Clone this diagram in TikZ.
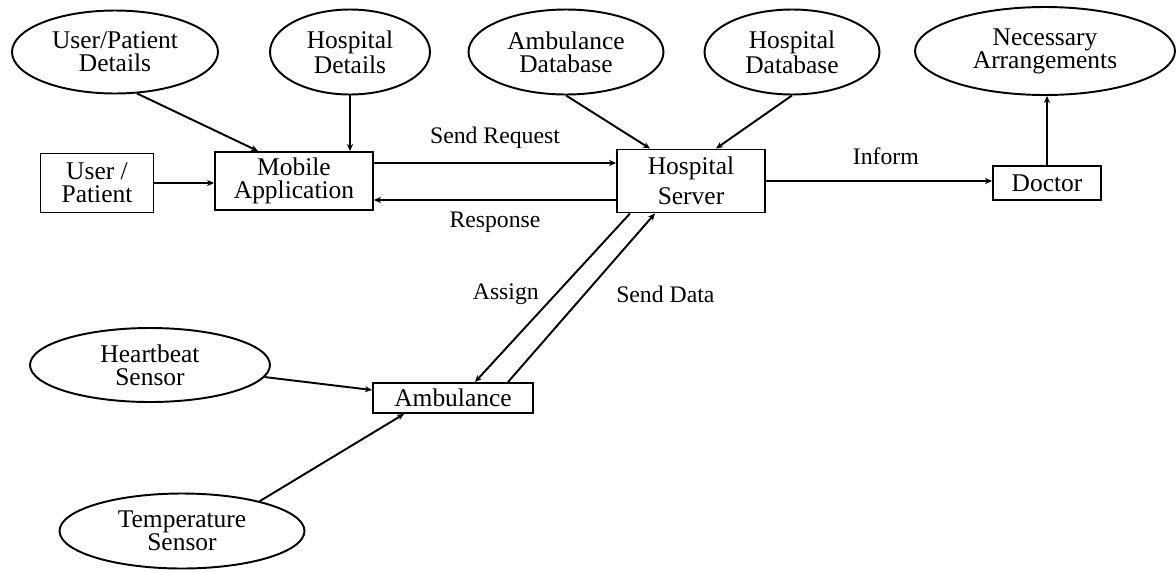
\documentclass[tikz,border=0pt]{standalone}
\usepackage{fontspec}
\setmainfont{Liberation Serif}
\usetikzlibrary{shapes.geometric,arrows.meta}

\begin{document}
\begin{tikzpicture}[x=0.02cm,y=-0.02cm,
    every node/.style={font=\fontsize{14.5}{13}\selectfont,align=center},
    blob/.style={draw,ellipse,line width=1.1pt,inner sep=0pt},
    unit/.style={draw,rectangle,line width=1.1pt,inner sep=0pt},
    flow/.style={-{Stealth[length=4pt,width=3.5pt]},line width=1.1pt},
    tag/.style={font=\fontsize{13.5}{13}\selectfont}]
  \useasboundingbox (0,0) rectangle (1176,572);
  \draw
    (115,52) node[blob,minimum width=4.12cm,minimum height=1.66cm] (upd){User/Patient\\Details}
    (350,52) node[blob,minimum width=3.2cm,minimum height=1.7cm] (hdet){Hospital\\Details}
    (566,52) node[blob,minimum width=3.9cm,minimum height=1.7cm] (adb){Ambulance\\Database}
    (792,52) node[blob,minimum width=3.5cm,minimum height=1.7cm] (hdb){Hospital\\Database}
    (1045,51) node[blob,minimum width=5.2cm,minimum height=1.76cm] (arr){Necessary\\Arrangements}
    (150,365) node[blob,minimum width=4.8cm,minimum height=1.48cm] (hbs){Heartbeat\\Sensor}
    (182,531) node[blob,minimum width=4.9cm,minimum height=1.5cm] (tmp){Temperature\\Sensor}
    (97,183) node[unit,minimum width=2.26cm,minimum height=1.18cm] (user){User /\\Patient}
    (294,181) node[unit,minimum width=3.16cm,minimum height=1.16cm] (mobile){Mobile\\Application}
    (691,181) node[unit,minimum width=2.96cm,minimum height=1.26cm,
      font=\fontsize{14.5}{17}\selectfont] (server){Hospital\\Server}
    (1047,183) node[unit,minimum width=2.16cm,minimum height=0.68cm] (doctor){Doctor}
    (453,398) node[unit,minimum width=3.2cm,minimum height=0.6cm] (amb){Ambulance};
  \begin{scope}[flow]
    \draw (upd.-62) -- ([xshift=-0.72cm]mobile.north);
    \draw (hdet.south) -- (hdet.south |- mobile.north);
    \draw (user.east) -- (user.east -| mobile.west);
    \draw ([yshift=0.36cm]mobile.east) -- node[tag,above=0.16cm] (sendreq){Send Request}
      ([yshift=0.36cm]mobile.east -| server.west);
    \draw ([yshift=-0.38cm]server.west) -- node[tag,below=0.1cm] (resp){Response}
      ([yshift=-0.38cm]server.west -| mobile.east);
    \draw (adb.south) -- ([xshift=-0.82cm]server.north);
    \draw (hdb.south) -- ([xshift=0.5cm]server.north);
    \draw (server.east) -- node[tag,pos=0.53,above=0.18cm] (inform){Inform} (server.east -| doctor.west);
    \draw (doctor.north) -- (doctor.north |- arr.south);
    \draw ([xshift=-1.22cm]server.south) -- node[tag,pos=0.48,left=0.2cm] (assign){Assign}
      ([xshift=0.44cm]amb.north);
    \draw ([xshift=1.1cm]amb.north) -- node[tag,pos=0.52,right=0.5cm] (senddata){Send Data}
      ([xshift=-0.72cm]server.south);
    \draw (hbs.-6) -- ([yshift=0.16cm]amb.west);
    \draw (tmp.21) -- ([xshift=-0.98cm]amb.south);
  \end{scope}
\end{tikzpicture}
\end{document}
